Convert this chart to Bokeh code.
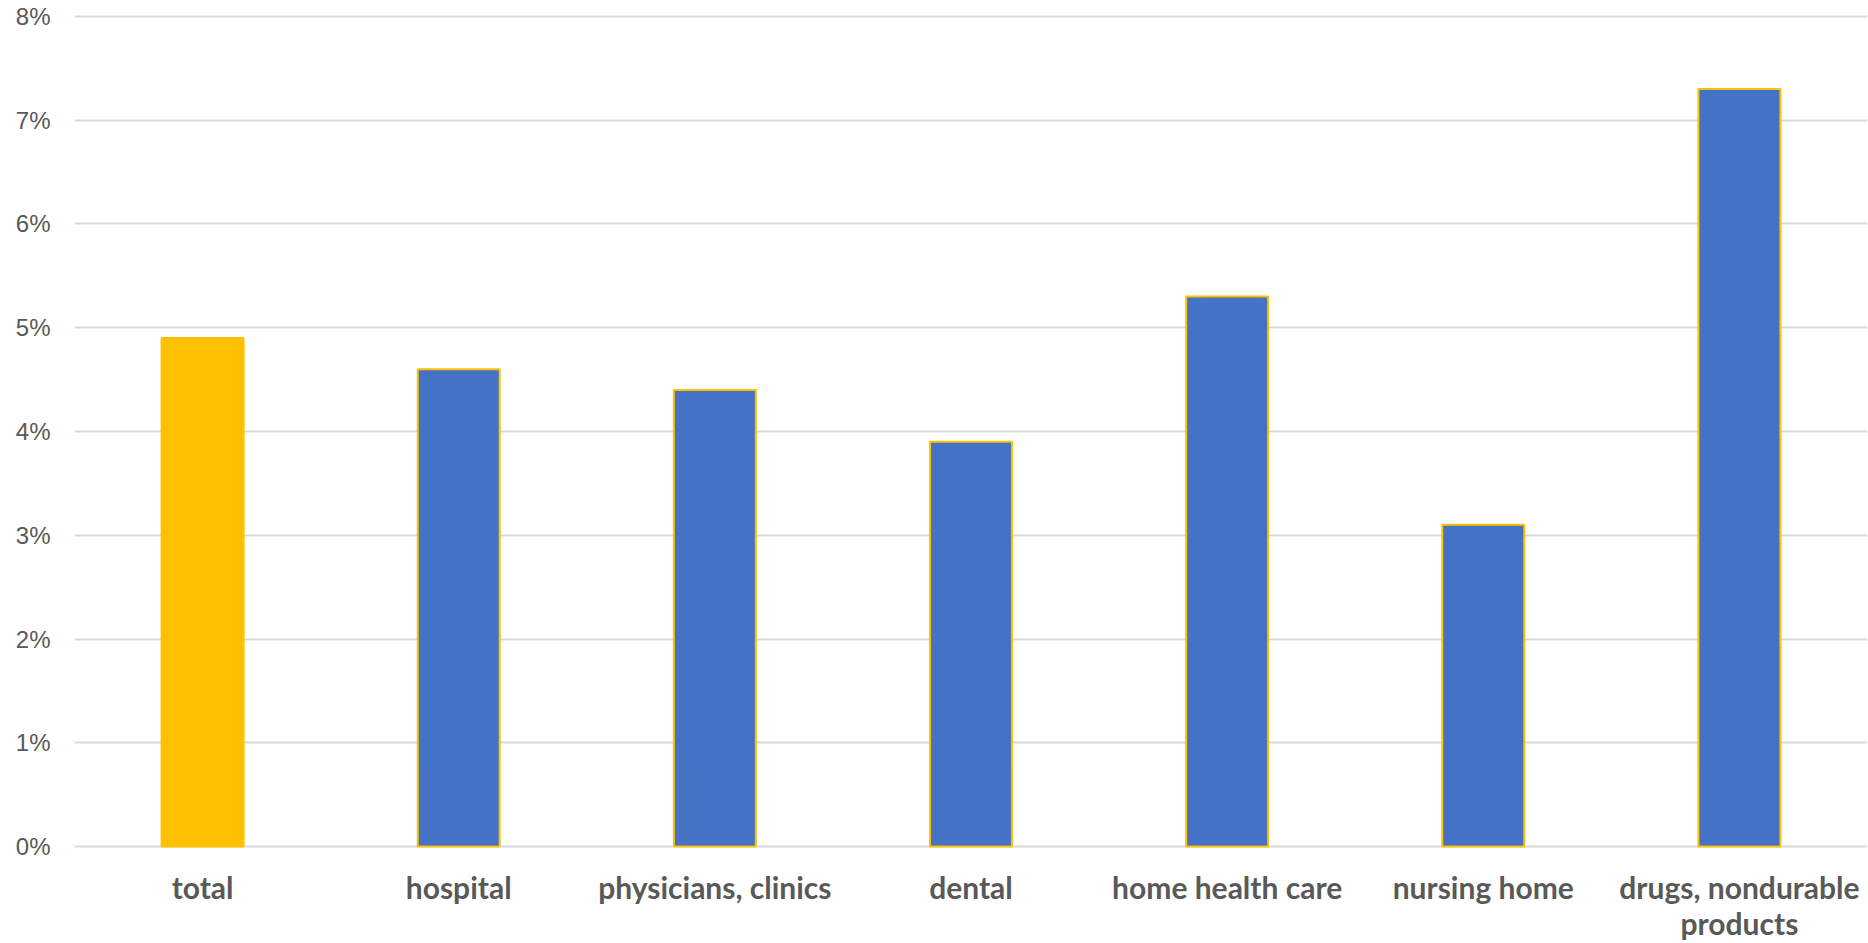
from bokeh.plotting import figure
from bokeh.models import ColumnDataSource, Range1d, FixedTicker
from bokeh.embed import file_html
from bokeh.resources import INLINE

# Annual growth rate of spending, by category
categories = ["total", "hospital", "physicians, clinics", "dental",
              "home health care", "nursing home", "drugs, nondurable\nproducts"]
growth_pct = [4.9, 4.6, 4.4, 3.9, 5.3, 3.1, 7.3]
bar_colors = ["#FFC000", "#4472C4", "#4472C4", "#4472C4", "#4472C4", "#4472C4", "#4472C4"]
y_ticks = [0, 1, 2, 3, 4, 5, 6, 7, 8]
y_tick_labels = {t: f"{t}%" for t in y_ticks}

source = ColumnDataSource(data=dict(cat=categories, val=growth_pct, color=bar_colors))

px_per_unit = (847 - 16) / 8.0
p = figure(
    x_range=categories,
    y_range=Range1d(-2 / px_per_unit, 8 + 4 / px_per_unit),
    width=1868, height=943,
    output_backend="svg", toolbar_location=None,
    min_border_left=74, min_border_right=1,
    min_border_top=12, min_border_bottom=94,
    outline_line_color=None,
)

p.vbar(x="cat", top="val", width=0.32, source=source,
       fill_color="color", line_color="#FFC000", line_width=2)

# Horizontal gridlines only
p.xgrid.grid_line_color = None
p.ygrid.grid_line_color = "#D9D9D9"
p.ygrid.grid_line_width = 2
p.ygrid.ticker = FixedTicker(ticks=y_ticks)

yax = p.yaxis[0]
yax.ticker = FixedTicker(ticks=y_ticks)
yax.major_label_overrides = y_tick_labels
yax.axis_line_color = None
yax.major_tick_line_color = None
yax.minor_tick_line_color = None
yax.major_tick_out = 0
yax.major_label_standoff = 24
yax.major_label_text_font = "Liberation Sans"
yax.major_label_text_font_size = "24px"
yax.major_label_text_color = "#595959"

xax = p.xaxis[0]
xax.axis_line_color = None
xax.major_tick_line_color = None
xax.minor_tick_line_color = None
xax.major_tick_out = 0
xax.major_label_standoff = 20
xax.major_label_text_font = "Lato"
xax.major_label_text_font_style = "bold"
xax.major_label_text_font_size = "30px"
xax.major_label_text_line_height = 1.0
xax.major_label_text_color = "#595959"

open("out.html", "w").write(file_html(p, INLINE))
